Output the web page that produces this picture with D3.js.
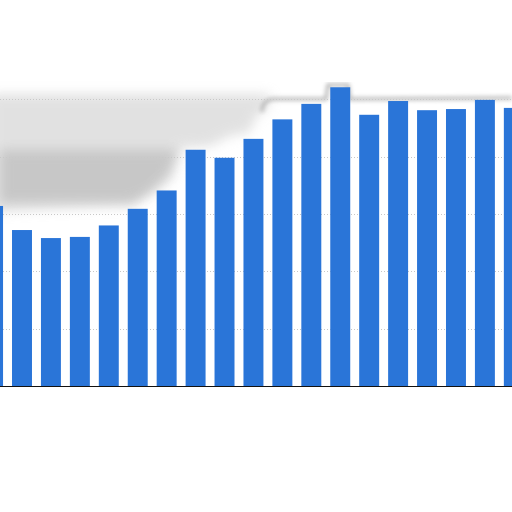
<!DOCTYPE html>
<html>
<head>
<meta charset="utf-8">
<script src="https://cdn.jsdelivr.net/npm/d3@7/dist/d3.min.js"></script>
<style>
  html, body { margin: 0; padding: 0; background: #fff; }
  svg { display: block; }
</style>
</head>
<body>
<div id="chart"></div>
<script>
// bar values (gridlines every 10)
var categories = ["1", "2", "3", "4", "5", "6", "7", "8", "9", "10",
                  "11", "12", "13", "14", "15", "16", "17", "18", "19"];
var values = [31.4, 27.2, 25.8, 26.0, 28.0, 30.9, 34.1, 41.2, 39.8, 43.1,
              46.5, 49.2, 52.1, 47.3, 49.7, 48.1, 48.3, 49.9, 48.5];
var yTicks = [10, 20, 30, 40, 50];

var width = 512, height = 512;

var svg = d3.select("#chart").append("svg")
  .attr("width", width)
  .attr("height", height);

var defs = svg.append("defs");
defs.append("filter").attr("id", "smudge")
    .attr("x", "-20%").attr("y", "-20%").attr("width", "140%").attr("height", "140%")
  .append("feGaussianBlur").attr("stdDeviation", 6);
defs.append("filter").attr("id", "soft")
  .append("feGaussianBlur").attr("stdDeviation", 2);

// the chart runs off both sides of the picture
var x = d3.scaleBand()
  .domain(categories)
  .range([-21.4, 528.3])
  .paddingInner(0.31)
  .paddingOuter(0.155);

var y = d3.scaleLinear()
  .domain([0, 50])
  .range([386, 99.3]);

// grey smudge behind the left half
svg.append("path")
  .attr("d", "M-10,94 L270,94 L268,108 L255,118 L250,132 L230,136 L210,146 L180,148 L165,175 L150,190 L135,205 L60,208 L-10,212 Z")
  .attr("fill", "#c4c4c4")
  .attr("opacity", 0.5)
  .attr("filter", "url(#smudge)");
svg.append("path")
  .attr("d", "M0,150 L180,150 L172,178 L150,195 L130,203 L0,203 Z")
  .attr("fill", "#a8a8a8")
  .attr("opacity", 0.45)
  .attr("filter", "url(#smudge)");
svg.append("line")
  .attr("x1", 0).attr("x2", 262)
  .attr("y1", 99).attr("y2", 99)
  .attr("stroke", "#b8b8b8")
  .attr("stroke-width", 3)
  .attr("filter", "url(#soft)");

// soft outline along the top on the right
svg.append("path")
  .attr("d", "M262,112 Q262,99 275,99 L326,99 L328,85 L348,85 L350,99 L512,98")
  .attr("fill", "none")
  .attr("stroke", "#b0b0b0")
  .attr("stroke-width", 3)
  .attr("filter", "url(#soft)");

// shadow under the baseline
svg.append("line")
  .attr("x1", 0).attr("x2", width)
  .attr("y1", 390).attr("y2", 390)
  .attr("stroke", "#bbb")
  .attr("stroke-width", 3)
  .attr("filter", "url(#soft)");

// gridlines
svg.append("g")
    .attr("class", "grid")
  .selectAll("line")
  .data(yTicks)
  .enter().append("line")
    .attr("x1", 0).attr("x2", width)
    .attr("y1", function(d) { return Math.round(y(d)) + 0.5; })
    .attr("y2", function(d) { return Math.round(y(d)) + 0.5; })
    .attr("stroke", "#c8c8c8")
    .attr("stroke-dasharray", "1,2");

svg.append("g")
  .selectAll("rect")
  .data(values)
  .enter().append("rect")
    .attr("x", function(d, i) { return x(categories[i]); })
    .attr("y", function(d) { return y(d); })
    .attr("width", x.bandwidth())
    .attr("height", function(d) { return y(0) - y(d); })
    .attr("fill", "#2a75d8");

// baseline
svg.append("line")
  .attr("x1", 0).attr("x2", width)
  .attr("y1", y(0) + 0.5).attr("y2", y(0) + 0.5)
  .attr("stroke", "#111")
  .attr("stroke-width", 1.2);
</script>
</body>
</html>
